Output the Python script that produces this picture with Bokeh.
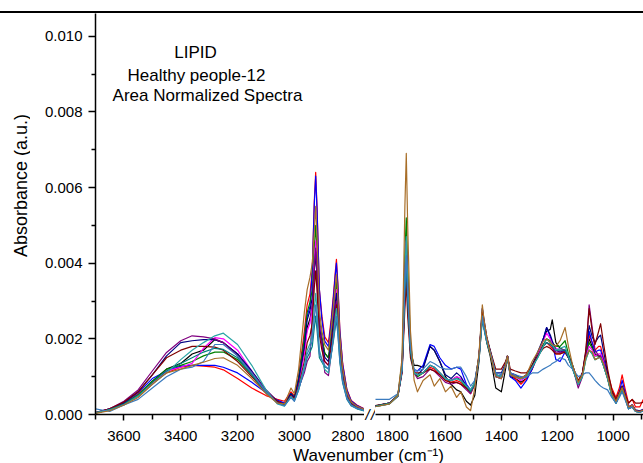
import numpy as np
from bokeh.plotting import figure
from bokeh.models import Range1d, FixedTicker, PrintfTickFormatter, Label, Spacer, Div
from bokeh.layouts import row, column
from bokeh.embed import file_html
from bokeh.resources import INLINE

FONT = "Liberation Sans"

# ---------------- data ----------------
# wavenumber grids (cm-1) of the two panels
wn_high = [3700, 3650, 3600, 3550, 3500, 3450, 3400, 3360, 3320, 3280, 3250, 3200, 3150, 3100,
           3060, 3035, 3012, 3000, 2985, 2965, 2955, 2945, 2937, 2930, 2925, 2920, 2912, 2903,
           2893, 2880, 2870, 2862, 2856, 2852, 2847, 2840, 2830, 2815, 2800, 2780, 2752]
wn_low = [1855, 1800, 1770, 1755, 1745, 1740, 1735, 1725, 1712, 1700, 1680, 1655, 1640, 1620,
          1600, 1580, 1560, 1545, 1525, 1510, 1495, 1480, 1468, 1462, 1452, 1440, 1420, 1400,
          1385, 1378, 1368, 1350, 1330, 1310, 1290, 1270, 1250, 1238, 1225, 1218, 1205, 1190,
          1172, 1160, 1145, 1125, 1110, 1098, 1086, 1075, 1065, 1052, 1045, 1035, 1020, 1005,
          990, 978, 968, 958, 945, 932, 920, 905, 892]

y_ticks = [0.000, 0.002, 0.004, 0.006, 0.008, 0.010]
y_minor = [0.001, 0.003, 0.005, 0.007, 0.009]
x_ticks_high = [3600, 3400, 3200, 3000, 2800]
x_minor_high = [3700, 3500, 3300, 3100, 2900]
x_ticks_low = [1800, 1600, 1400, 1200, 1000]
x_minor_low = [1700, 1500, 1300, 1100, 900]

# absorbance values in units of 1e-4 a.u.
black_high = [0.4, 1.3, 2.8, 5.2, 8.8, 12.0, 13.5, 16.0, 17.0, 19.8, 19.0, 16.0, 11.0, 6.0, 3.2, 2.5, 5.2, 4.2, 8.5, 17.0, 23.0,
              25.3, 29.0, 37.8, 43.0, 36.6, 23.0, 19.5, 16.2, 15.0, 20.1, 25.2, 29.4, 32.0, 27.2, 17.6, 10.6, 5.1, 2.9, 1.9, 1.1]
black_low = [2.0, 2.8, 4.8, 11.5, 32.0, 41.0, 31.0, 17.0, 13.0, 13.0, 12.5, 18.0, 17.0, 14.0, 10.0, 8.0, 6.5, 6.0, 3.5, 2.5,
             5.0, 14.0, 26.0, 23.0, 19.0, 15.5, 7.0, 6.0, 12.0, 15.0, 10.0, 9.5, 8.5, 9.5, 12.0, 15.5, 20.0, 22.0, 22.5, 25.0,
             19.0, 17.5, 17.0, 15.0, 12.0, 8.0, 10.5, 15.5, 20.0, 18.0, 16.0, 15.5, 15.0, 13.0, 9.5, 5.0, 3.0, 5.0, 6.5, 4.5,
             1.5, 2.0, 0.8, 0.6, 1.0]

red_high = [0.4, 1.3, 2.8, 5.5, 8.5, 11.0, 12.5, 13.0, 12.8, 12.5, 11.8, 9.5, 7.0, 5.0, 4.0, 3.5, 6.0, 5.0, 10.0, 22.0, 29.0,
            31.9, 38.4, 56.3, 64.0, 54.4, 33.0, 26.0, 20.5, 19.0, 25.6, 32.2, 37.7, 41.0, 34.9, 22.6, 13.5, 6.6, 3.7, 2.5, 1.4]
red_low = [2.2, 3.0, 5.0, 12.5, 35.0, 44.0, 33.0, 17.0, 11.0, 10.5, 11.0, 12.5, 12.0, 10.5, 9.0, 8.5, 9.0, 8.5, 7.0, 5.5,
           8.0, 15.0, 27.0, 24.0, 20.0, 16.5, 10.0, 9.5, 13.0, 15.5, 10.5, 9.5, 8.0, 9.5, 12.0, 15.5, 18.5, 19.0, 18.0, 17.5,
           16.0, 16.0, 17.0, 15.0, 12.5, 8.5, 11.0, 16.0, 21.0, 19.0, 17.0, 18.0, 18.0, 15.0, 11.0, 7.0, 4.5, 7.0, 10.5, 7.0,
           3.0, 4.0, 2.0, 2.0, 4.0]

blue_high = [0.5, 1.5, 3.0, 5.8, 9.5, 11.5, 12.8, 13.0, 13.0, 13.0, 12.5, 11.0, 8.5, 5.8, 3.8, 3.0, 5.5, 4.5, 9.5, 20.0, 26.0,
             28.6, 37.8, 55.4, 63.0, 53.6, 33.0, 25.0, 19.4, 18.0, 24.6, 31.2, 36.8, 40.0, 34.0, 22.0, 13.2, 6.4, 3.6, 2.4, 1.4]
blue_low = [2.2, 3.0, 4.8, 11.5, 31.0, 38.0, 29.0, 16.0, 11.5, 11.5, 13.0, 18.5, 18.0, 15.0, 13.0, 12.0, 12.5, 12.0, 8.0, 6.5,
            8.0, 15.0, 28.0, 24.5, 20.0, 16.5, 10.0, 9.5, 13.0, 15.5, 10.0, 9.0, 7.0, 9.0, 12.0, 15.5, 20.0, 23.0, 20.5, 19.0,
            14.5, 14.0, 16.5, 15.0, 12.5, 8.5, 11.0, 16.0, 22.0, 19.0, 16.5, 17.0, 17.0, 14.5, 10.5, 6.0, 3.5, 6.0, 9.0, 6.0,
            2.0, 2.5, 1.0, 0.8, 1.3]

green_high = [0.4, 1.3, 2.8, 5.2, 8.8, 12.0, 13.0, 14.0, 15.5, 16.5, 16.5, 14.5, 10.5, 6.0, 3.2, 2.6, 5.5, 4.5, 9.5, 20.0, 27.0,
              29.7, 33.0, 44.0, 50.0, 42.5, 25.0, 20.5, 16.2, 15.0, 21.0, 27.0, 32.2, 35.0, 29.8, 19.3, 11.6, 5.6, 3.2, 2.1, 1.2]
green_low = [2.2, 3.0, 5.2, 14.0, 42.0, 52.0, 39.0, 19.0, 11.0, 10.0, 11.0, 13.0, 12.5, 11.0, 9.5, 9.0, 10.0, 9.0, 7.0, 6.0,
             8.0, 15.0, 27.0, 24.0, 20.0, 16.5, 10.5, 10.0, 13.0, 15.5, 10.5, 10.0, 9.5, 10.5, 13.0, 15.5, 18.5, 20.0, 19.5, 19.0,
             18.0, 18.0, 19.5, 16.0, 13.0, 8.5, 10.5, 15.5, 19.0, 17.5, 15.5, 15.5, 15.5, 13.5, 10.0, 5.5, 3.5, 5.5, 7.0, 5.0,
             2.0, 2.5, 1.0, 0.8, 1.2]

magenta_high = [0.4, 1.2, 2.6, 4.8, 8.0, 11.5, 12.5, 13.5, 17.5, 20.3, 20.0, 17.0, 11.5, 6.0, 3.0, 2.4, 5.0, 4.0, 8.0, 16.0, 22.0,
                24.2, 28.5, 40.5, 46.0, 39.1, 24.0, 19.0, 14.0, 13.0, 19.0, 25.0, 30.4, 33.0, 28.0, 18.2, 10.9, 5.3, 3.0, 2.0, 1.2]
magenta_low = [2.2, 3.0, 5.0, 12.5, 37.0, 46.0, 34.0, 17.5, 11.0, 10.5, 11.0, 13.0, 12.5, 11.0, 9.5, 9.0, 10.0, 9.5, 7.5, 6.0,
               8.0, 15.0, 27.0, 24.0, 20.0, 16.5, 10.5, 10.0, 13.0, 15.5, 10.5, 10.0, 9.0, 10.0, 12.5, 16.0, 19.5, 21.5, 20.0, 19.0,
               17.5, 17.0, 17.0, 15.0, 12.5, 8.0, 10.5, 15.0, 18.0, 17.0, 15.5, 16.0, 16.0, 14.0, 10.0, 5.5, 3.5, 5.5, 7.0, 5.0,
               2.0, 2.5, 1.0, 0.8, 1.2]

navy_high = [0.4, 1.5, 3.2, 6.0, 10.5, 15.5, 19.0, 19.5, 19.8, 19.8, 19.0, 16.0, 11.5, 6.5, 3.5, 2.7, 5.5, 4.5, 9.0, 18.0, 25.0,
             27.5, 31.0, 37.8, 43.0, 36.6, 23.0, 19.0, 15.1, 14.0, 19.4, 24.8, 29.4, 32.0, 27.2, 17.6, 10.6, 5.1, 2.9, 1.9, 1.1]
navy_low = [2.2, 3.0, 5.0, 12.0, 34.0, 43.0, 32.0, 17.0, 11.0, 10.5, 12.0, 18.0, 17.0, 14.0, 10.5, 9.5, 11.0, 10.0, 7.5, 6.0,
            8.5, 15.5, 28.0, 25.0, 20.5, 17.0, 11.0, 11.0, 13.5, 15.5, 11.0, 10.5, 9.5, 10.5, 13.0, 16.5, 20.0, 23.0, 21.0, 19.5,
            17.0, 16.5, 17.0, 15.5, 13.0, 8.5, 11.0, 16.5, 23.5, 20.5, 19.0, 20.5, 21.0, 17.0, 11.0, 6.0, 3.5, 5.5, 7.5, 5.0,
            2.0, 2.5, 1.2, 1.0, 1.4]

purple_high = [0.5, 1.5, 3.5, 6.5, 11.5, 16.4, 19.5, 20.8, 20.5, 20.0, 19.0, 15.5, 11.0, 6.5, 3.5, 2.5, 5.0, 4.0, 7.0, 11.0, 14.0,
               15.4, 26.4, 38.7, 44.0, 37.4, 22.0, 18.7, 11.1, 10.3, 16.2, 22.1, 27.6, 30.0, 25.5, 16.5, 9.9, 4.8, 2.7, 1.8, 1.1]
purple_low = [2.2, 3.0, 5.0, 13.0, 36.0, 45.0, 34.0, 18.0, 11.0, 9.5, 10.0, 12.0, 11.5, 10.0, 8.5, 8.0, 8.5, 8.0, 6.5, 5.5,
              8.0, 15.0, 27.0, 24.0, 20.0, 16.5, 10.5, 10.0, 13.0, 15.5, 11.0, 10.0, 9.5, 10.0, 12.5, 15.5, 18.0, 19.0, 18.5, 18.0,
              16.5, 16.5, 16.5, 15.0, 12.5, 7.0, 10.0, 16.0, 29.0, 23.0, 17.0, 15.5, 15.5, 13.5, 10.0, 5.5, 3.5, 5.5, 7.0, 5.0,
              2.0, 2.5, 1.0, 0.8, 1.2]

maroon_high = [0.5, 1.5, 3.3, 6.0, 10.5, 15.0, 17.0, 18.0, 18.0, 17.8, 17.0, 14.0, 10.0, 6.0, 3.5, 2.7, 5.0, 4.2, 7.5, 14.0, 19.0,
               20.9, 24.0, 33.4, 38.0, 32.3, 21.0, 17.0, 14.0, 13.0, 17.8, 22.6, 26.7, 29.0, 24.7, 16.0, 9.6, 4.6, 2.6, 1.7, 1.0]
maroon_low = [2.3, 3.0, 5.0, 11.0, 28.0, 35.0, 26.0, 15.0, 11.0, 11.0, 11.0, 12.0, 11.5, 10.5, 9.0, 8.5, 8.5, 8.0, 7.0, 6.0,
              8.5, 15.5, 27.0, 24.0, 20.0, 17.0, 12.0, 12.0, 14.0, 15.5, 12.0, 11.5, 11.0, 11.0, 13.0, 15.5, 17.5, 18.0, 17.5, 17.0,
              16.0, 16.0, 16.5, 15.0, 12.5, 9.0, 11.0, 17.0, 28.0, 22.0, 18.5, 22.0, 24.0, 19.0, 12.0, 6.5, 4.0, 6.0, 7.5, 5.5,
              3.0, 4.0, 3.0, 3.0, 3.2]

darkcyan_high = [0.4, 1.3, 2.7, 5.0, 8.5, 11.5, 13.5, 15.0, 16.5, 17.5, 17.2, 15.0, 10.5, 5.8, 3.0, 2.4, 4.6, 3.6, 6.5, 12.0, 15.0,
                 16.5, 18.0, 22.9, 26.0, 22.1, 15.0, 13.8, 12.6, 12.0, 15.9, 19.8, 23.0, 25.0, 21.3, 13.8, 8.3, 4.0, 2.3, 1.5, 0.9]
darkcyan_low = [2.2, 3.0, 5.0, 12.0, 33.0, 40.0, 30.0, 16.5, 11.0, 10.5, 11.0, 13.0, 12.5, 11.0, 9.5, 9.0, 9.5, 9.0, 7.5, 6.0,
                8.0, 14.5, 25.0, 22.5, 19.0, 16.0, 10.5, 10.0, 13.0, 15.0, 10.5, 10.0, 9.5, 10.0, 12.5, 15.0, 18.0, 19.0, 18.5, 18.0,
                17.0, 17.0, 17.0, 15.0, 12.0, 8.0, 10.0, 14.5, 17.0, 16.0, 14.5, 15.0, 15.0, 13.0, 9.5, 5.0, 3.0, 5.0, 6.5, 4.5,
                1.5, 2.0, 0.8, 0.6, 1.0]

teal_high = [0.5, 1.2, 2.5, 4.8, 8.0, 11.0, 14.5, 17.0, 19.0, 20.8, 21.5, 18.5, 13.0, 6.5, 2.8, 2.2, 4.8, 3.8, 7.0, 13.0, 17.0,
             18.7, 21.0, 28.2, 32.0, 27.2, 17.0, 14.5, 11.9, 11.0, 16.1, 21.2, 25.8, 28.0, 23.8, 15.4, 9.2, 4.5, 2.5, 1.7, 1.0]
teal_low = [2.0, 2.8, 4.8, 12.0, 37.0, 47.0, 35.0, 18.0, 11.0, 10.5, 11.0, 13.0, 12.5, 11.0, 9.5, 9.0, 9.5, 9.0, 7.5, 6.5,
            8.5, 15.0, 26.0, 23.0, 19.5, 16.5, 10.5, 10.0, 13.0, 15.0, 10.5, 10.0, 9.5, 10.0, 12.5, 15.0, 18.0, 20.0, 19.0, 18.5,
            17.0, 17.5, 18.0, 15.5, 12.0, 8.0, 10.0, 14.5, 17.0, 16.0, 14.5, 15.0, 15.0, 13.0, 9.5, 5.0, 3.0, 5.0, 7.0, 4.5,
            1.5, 2.0, 0.8, 0.6, 1.0]

steel_high = [1.5, 0.8, 2.5, 4.0, 7.0, 10.0, 12.0, 12.5, 14.0, 18.5, 18.5, 15.5, 11.0, 6.0, 3.0, 2.3, 4.5, 3.5, 6.5, 12.0, 16.0,
              17.6, 19.5, 25.5, 29.0, 24.7, 16.0, 14.5, 13.0, 12.0, 16.2, 20.4, 23.9, 26.0, 22.1, 14.3, 8.6, 4.2, 2.3, 1.6, 1.0]
steel_low = [4.0, 4.0, 5.5, 12.0, 34.0, 42.0, 32.0, 17.5, 12.0, 11.5, 12.0, 14.0, 13.5, 12.5, 12.0, 12.0, 12.5, 12.5, 10.0, 7.5,
             9.0, 15.0, 26.0, 23.0, 19.5, 16.5, 11.0, 10.5, 13.0, 15.5, 11.0, 10.5, 10.0, 10.0, 11.0, 11.0, 12.0, 12.5, 13.0, 13.5,
             14.0, 15.0, 14.5, 13.0, 12.0, 10.0, 10.5, 11.0, 11.0, 10.0, 9.0, 8.0, 7.5, 7.0, 6.5, 4.5, 3.0, 4.5, 6.0, 4.0,
             1.5, 2.0, 0.8, 0.6, 1.0]

brown_high = [0.3, 1.0, 2.5, 4.5, 8.0, 11.0, 12.0, 13.0, 13.8, 14.8, 15.0, 13.0, 9.5, 5.5, 3.0, 2.8, 7.0, 5.5, 12.0, 27.0, 33.0,
              36.3, 40.0, 48.4, 55.0, 46.8, 27.5, 22.0, 18.4, 17.0, 23.0, 29.0, 34.0, 37.0, 31.5, 20.4, 12.2, 5.9, 3.3, 2.2, 1.3]
brown_low = [2.0, 2.8, 5.0, 15.0, 55.0, 69.0, 50.0, 22.0, 9.0, 6.0, 9.0, 10.5, 7.5, 9.5, 6.0, 7.5, 4.5, 6.0, 2.0, 1.0,
             7.0, 16.0, 29.0, 25.0, 20.5, 16.0, 10.0, 9.5, 13.0, 15.5, 10.5, 10.0, 9.5, 10.5, 14.0, 16.5, 19.5, 20.0, 19.0, 18.5,
             18.0, 19.5, 23.0, 18.0, 13.0, 8.5, 10.5, 15.0, 17.0, 16.5, 14.5, 15.0, 15.0, 13.5, 10.0, 5.5, 3.5, 5.5, 7.0, 5.0,
             2.0, 2.5, 1.0, 0.8, 1.2]

series = [
    ("#000000", black_high, black_low),
    ("#FF0000", red_high, red_low),
    ("#0000FF", blue_high, blue_low),
    ("#008000", green_high, green_low),
    ("#FF00FF", magenta_high, magenta_low),
    ("#000080", navy_high, navy_low),
    ("#800080", purple_high, purple_low),
    ("#800000", maroon_high, maroon_low),
    ("#008080", darkcyan_high, darkcyan_low),
    ("#2AA5A5", teal_high, teal_low),
    ("#3A7BBF", steel_high, steel_low),
    ("#A86E28", brown_high, brown_low),
]
SCALE = 1e-4

# ---------------- layout constants (pixels) ----------------
FRAME_H = 401
BOTTOM = 33

y_range = Range1d(0.0, 0.0106)


def base_fig(x_range, frame_width, left_border):
    p = figure(output_backend="svg", toolbar_location=None, tools="",
               frame_width=frame_width, frame_height=FRAME_H,
               min_border_left=left_border, min_border_right=0,
               min_border_top=0, min_border_bottom=BOTTOM,
               x_range=x_range, y_range=y_range,
               background_fill_color="white", border_fill_color="white")
    p.grid.visible = False
    p.outline_line_color = None
    return p


def style_x(ax, ticks, minor):
    ax.ticker = FixedTicker(ticks=ticks, minor_ticks=minor)
    ax.axis_line_width = 1.5
    ax.axis_line_color = "black"
    ax.major_tick_line_width = 1.5
    ax.minor_tick_line_width = 1.5
    ax.major_tick_in = 0
    ax.minor_tick_in = 0
    ax.major_tick_out = 6
    ax.minor_tick_out = 5
    ax.major_label_standoff = 10
    ax.major_label_text_font = FONT
    ax.major_label_text_font_size = "15px"
    ax.major_label_text_color = "black"


# y-axis title strip (30 px wide)
ytitle = base_fig(Range1d(0, 1), 30, 0)
ytitle.axis.visible = False
ytitle.add_layout(Label(x=20.5, y=229, x_units="screen", y_units="screen", angle=np.pi / 2,
                        text="Absorbance (a.u.)", text_font=FONT, text_font_size="18px",
                        text_align="center", text_baseline="middle", text_color="black"))

left = base_fig(Range1d(3700, 2753.2), 269, 65)
right = base_fig(Range1d(1850.1, 891.6), 268, 0)
right.yaxis.visible = False

style_x(left.xaxis[0], x_ticks_high, x_minor_high)
style_x(right.xaxis[0], x_ticks_low, x_minor_low)

ya = left.yaxis[0]
ya.ticker = FixedTicker(ticks=y_ticks, minor_ticks=y_minor)
ya.formatter = PrintfTickFormatter(format="%.3f")
ya.axis_line_width = 1.5
ya.axis_line_color = "black"
ya.major_tick_line_width = 1.5
ya.minor_tick_line_width = 1.5
ya.major_tick_in = 0
ya.minor_tick_in = 0
ya.major_tick_out = 7
ya.minor_tick_out = 4
ya.major_label_standoff = 6
ya.major_label_text_font = FONT
ya.major_label_text_font_size = "15px"
ya.major_label_text_color = "black"

for color, hi, lo in series:
    left.line(wn_high, np.array(hi) * SCALE, line_color=color, line_width=1.2, line_join="round")
    right.line(wn_low, np.array(lo) * SCALE, line_color=color, line_width=1.2, line_join="round")

# annotation text
for txt, sx, sy in [("LIPID", 100, 362), ("Healthy people-12", 101, 339), ("Area Normalized Spectra", 112, 319)]:
    left.add_layout(Label(x=sx, y=sy, x_units="screen", y_units="screen", text=txt,
                          text_font=FONT, text_font_size="17px", text_align="center",
                          text_baseline="middle", text_color="black"))

# axis-break strip (11 px between the two panels): two "/" marks sitting on the axis line
brk = base_fig(Range1d(0, 11), 11, 0)
brk.yaxis.visible = False
bx = brk.xaxis[0]
bx.ticker = FixedTicker(ticks=[3.0, 8.5], minor_ticks=[])
bx.major_label_overrides = {3.0: "/", 8.5: "/"}
bx.axis_line_color = None
bx.major_tick_line_color = None
bx.major_tick_in = 0
bx.major_tick_out = 0
bx.major_label_standoff = -9
bx.major_label_text_font = FONT
bx.major_label_text_font_size = "15px"
bx.major_label_text_font_style = "italic"
bx.major_label_text_color = "black"

# x-axis title strip
XL_H = 463 - 13 - FRAME_H - BOTTOM
xl = figure(output_backend="svg", toolbar_location=None, tools="", width=643, height=XL_H,
            min_border=0, x_range=Range1d(0, 1), y_range=Range1d(0, 1),
            x_axis_location=None, y_axis_location=None)
xl.grid.visible = False
xl.outline_line_color = None
xl.add_layout(Label(x=368, y=XL_H - 7.5, x_units="screen", y_units="screen", text="Wavenumber (cm\u207b\u00b9)",
                    text_font=FONT, text_font_size="17px", text_align="center",
                    text_baseline="middle", text_color="black"))

top_bar = Div(text="", width=643, height=2, margin=0, styles={"background-color": "black"})
layout = column(Spacer(width=643, height=11, margin=0), top_bar, row(ytitle, left, brk, right), xl)

open("out.html", "w").write(file_html(layout, INLINE))
